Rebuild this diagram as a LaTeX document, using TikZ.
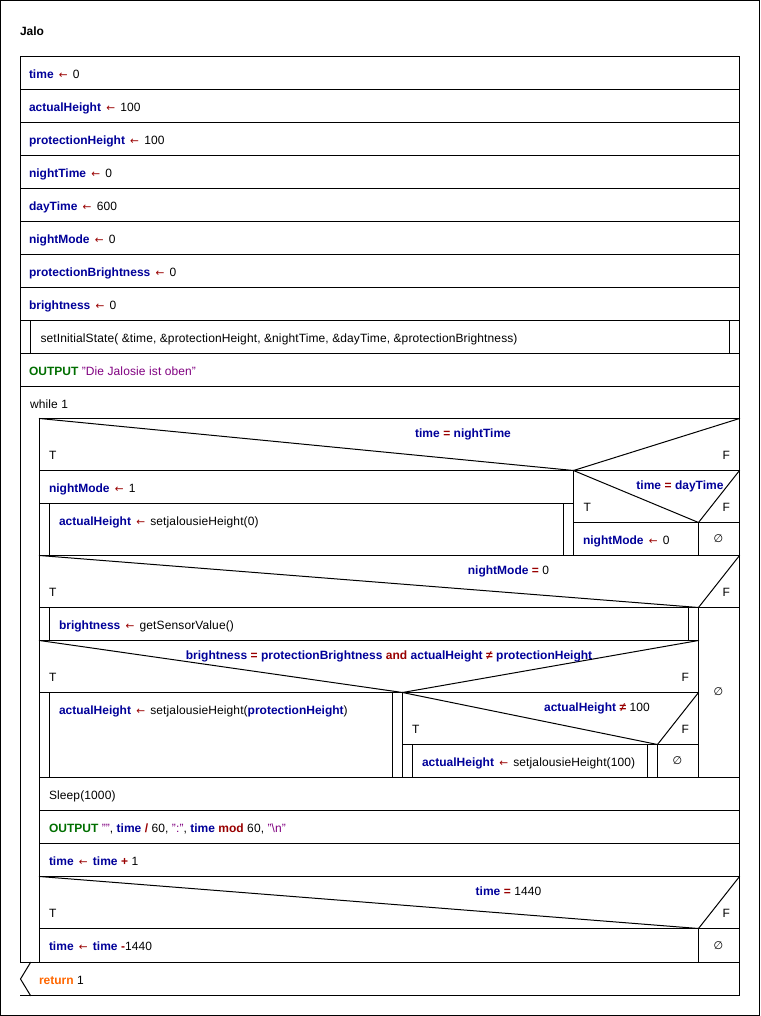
\documentclass[tikz,border=0pt]{standalone}
\usepackage{fontspec}
\setmainfont{Liberation Sans}[UprightFeatures={LetterSpace=1.0}]
\newfontfamily\symfont{DejaVu Sans}

\definecolor{nsvar}{RGB}{0,0,153}
\definecolor{nsop}{RGB}{153,0,0}
\definecolor{nsout}{RGB}{0,110,0}
\definecolor{nsstr}{RGB}{128,0,128}
\definecolor{nsret}{RGB}{255,102,0}

% syntax colouring helpers
\newcommand\nsv[1]{\textcolor{nsvar}{\textbf{#1}}}
\newcommand\nso[1]{\textcolor{nsop}{\textbf{#1}}}
\newcommand\nsgets{\kern1.8pt\textcolor{nsop}{{\symfont\fontsize{10.5}{12}\selectfont ←}}\kern1.8pt}
\newcommand\nss[1]{\textcolor{nsstr}{#1}}
\newcommand\nsempty{{\symfont\fontsize{11}{12}\selectfont ∅}}

\tikzset{
  ln/.style={line width=1pt, line cap=rect},
  lbl/.style={inner sep=0pt, outer sep=0pt, anchor=base west, font=\fontsize{12}{14}\selectfont},
  cond/.style={lbl, anchor=base},
  flab/.style={lbl, anchor=base east},
  nul/.style={inner sep=0pt, outer sep=0pt, anchor=center},
}

\begin{document}
\begin{tikzpicture}[x=1pt, y=-1pt]
\useasboundingbox (0,0) rectangle (760,1016);

% ---------- frames ----------
\draw[ln] (0.5,0.5) rectangle (759.5,1015.5);
\draw[ln] (20.5,962.5) -- (20.5,56.5) -- (739.5,56.5) -- (739.5,995.5) -- (20.5,995.5);
\draw[ln] (30.5,962.5) -- (20.5,979) -- (30.5,995.5);
\draw[ln] (20.5,962.5) -- (739.5,962.5);

% sequence rows before the loop
\foreach \yy in {89.5,122.5,155.5,188.5,221.5,254.5,287.5,320.5,353.5,386.5}
  \draw[ln] (20.5,\yy) -- (739.5,\yy);
% call box bars
\draw[ln] (30.5,320.5) -- (30.5,353.5);
\draw[ln] (729.5,320.5) -- (729.5,353.5);

% while loop
\draw[ln] (39.5,418.5) -- (739.5,418.5);
\draw[ln] (39.5,418.5) -- (39.5,962.5);

% if time = nightTime
\draw[ln] (39.5,418.5) -- (573.5,470.5) -- (739.5,418.5);
\draw[ln] (39.5,470.5) -- (739.5,470.5);
\draw[ln] (573.5,470.5) -- (573.5,555.5);
\draw[ln] (39.5,503.5) -- (573.5,503.5);
\draw[ln] (49.5,503.5) -- (49.5,555.5);
\draw[ln] (563.5,503.5) -- (563.5,555.5);
% nested if time = dayTime
\draw[ln] (573.5,470.5) -- (698.5,522.5) -- (739.5,470.5);
\draw[ln] (573.5,522.5) -- (739.5,522.5);
\draw[ln] (698.5,522.5) -- (698.5,555.5);
\draw[ln] (39.5,555.5) -- (739.5,555.5);

% if nightMode = 0
\draw[ln] (39.5,555.5) -- (698.5,607.5) -- (739.5,555.5);
\draw[ln] (39.5,607.5) -- (739.5,607.5);
\draw[ln] (698.5,607.5) -- (698.5,777.5);
\draw[ln] (49.5,607.5) -- (49.5,640.5);
\draw[ln] (688.5,607.5) -- (688.5,640.5);
\draw[ln] (39.5,640.5) -- (698.5,640.5);
% if brightness ...
\draw[ln] (39.5,640.5) -- (402.5,692.5) -- (698.5,640.5);
\draw[ln] (39.5,692.5) -- (698.5,692.5);
\draw[ln] (402.5,692.5) -- (402.5,777.5);
\draw[ln] (49.5,692.5) -- (49.5,777.5);
\draw[ln] (392.5,692.5) -- (392.5,777.5);
% if actualHeight != 100
\draw[ln] (402.5,692.5) -- (657.5,744.5) -- (698.5,692.5);
\draw[ln] (402.5,744.5) -- (698.5,744.5);
\draw[ln] (657.5,744.5) -- (657.5,777.5);
\draw[ln] (412.5,744.5) -- (412.5,777.5);
\draw[ln] (647.5,744.5) -- (647.5,777.5);

% remaining rows of the loop body
\foreach \yy in {777.5,810.5,843.5,876.5}
  \draw[ln] (39.5,\yy) -- (739.5,\yy);
% if time = 1440
\draw[ln] (39.5,876.5) -- (698.5,928.5) -- (739.5,876.5);
\draw[ln] (39.5,928.5) -- (739.5,928.5);
\draw[ln] (698.5,928.5) -- (698.5,962.5);

% ---------- texts ----------
\node[lbl] (title) at (20,36) {\textbf{Jalo}};
\node[lbl] (s1) at (29,78.5)  {\nsv{time} \nsgets{} 0};
\node[lbl] (s2) at (29,111.5) {\nsv{actualHeight} \nsgets{} 100};
\node[lbl] (s3) at (29,144.5) {\nsv{protectionHeight} \nsgets{} 100};
\node[lbl] (s4) at (29,177.5) {\nsv{nightTime} \nsgets{} 0};
\node[lbl] (s5) at (29,210.5) {\nsv{dayTime} \nsgets{} 600};
\node[lbl] (s6) at (29,243.5) {\nsv{nightMode} \nsgets{} 0};
\node[lbl] (s7) at (29,276.5) {\nsv{protectionBrightness} \nsgets{} 0};
\node[lbl] (s8) at (29,309.5) {\nsv{brightness} \nsgets{} 0};
\node[lbl] (s9) at (40.5,342.5) {setInitialState( \&time, \&protectionHeight, \&nightTime, \&dayTime, \&protectionBrightness)};
\node[lbl] (s10) at (29,375.5) {\textcolor{nsout}{\textbf{OUTPUT}} \nss{"Die Jalosie ist oben"}};
\node[lbl] (loop) at (30,408.5) {while 1};

\node[cond] (c1) at (463,437) {\nsv{time} \nso{=} \nsv{nightTime}};
\node[lbl] (c1t) at (49,459.5) {T};
\node[flab] (c1f) at (730,459.5) {F};
\node[lbl] (a1) at (49,492.5) {\nsv{nightMode} \nsgets{} 1};
\node[lbl] (a2) at (59,525.5) {\nsv{actualHeight} \nsgets{} setjalousieHeight(0)};

\node[cond] (c2) at (680,489) {\nsv{time} \nso{=} \nsv{dayTime}};
\node[lbl] (c2t) at (583.5,511.5) {T};
\node[flab] (c2f) at (730,511.5) {F};
\node[lbl] (a3) at (583,544.5) {\nsv{nightMode} \nsgets{} 0};
\node[nul] (e1) at (718.5,539) {\nsempty};

\node[cond] (c3) at (508.5,574) {\nsv{nightMode} \nso{=} 0};
\node[lbl] (c3t) at (49,596.5) {T};
\node[flab] (c3f) at (730,596.5) {F};
\node[lbl] (a4) at (59,629.5) {\nsv{brightness} \nsgets{} getSensorValue()};
\node[nul] (e2) at (718.5,692) {\nsempty};

\node[cond] (c4) at (389,659) {\nsv{brightness} \nso{=} \nsv{protectionBrightness} \nso{and} \nsv{actualHeight} \nso{≠} \nsv{protectionHeight}};
\node[lbl] (c4t) at (49,681.5) {T};
\node[flab] (c4f) at (689,681.5) {F};
\node[lbl] (a5) at (59,714.5) {\nsv{actualHeight} \nsgets{} setjalousieHeight(\nsv{protectionHeight})};

\node[cond] (c5) at (597,711) {\nsv{actualHeight} \nso{≠} 100};
\node[lbl] (c5t) at (412,733.5) {T};
\node[flab] (c5f) at (689,733.5) {F};
\node[lbl] (a6) at (422,766.5) {\nsv{actualHeight} \nsgets{} setjalousieHeight(100)};
\node[nul] (e3) at (677.5,761) {\nsempty};

\node[lbl] (a7) at (49,799.5) {Sleep(1000)};
\node[lbl] (a8) at (49,832.5) {\textcolor{nsout}{\textbf{OUTPUT}} \nss{""}, \nsv{time} \nso{/} 60, \nss{":"}, \nsv{time} \nso{mod} 60, \nss{"\textbackslash n"}};
\node[lbl] (a9) at (49,865.5) {\nsv{time} \nsgets{} \nsv{time} \nso{+} 1};

\node[cond] (c6) at (508.5,895) {\nsv{time} \nso{=} 1440};
\node[lbl] (c6t) at (49,917.5) {T};
\node[flab] (c6f) at (730,917.5) {F};
\node[lbl] (a10) at (49,950.5) {\nsv{time} \nsgets{} \nsv{time} \nso{-}1440};
\node[nul] (e4) at (718.5,945.5) {\nsempty};

\node[lbl] (ret) at (39,984.5) {\textcolor{nsret}{\textbf{return}} 1};
\end{tikzpicture}
\end{document}
